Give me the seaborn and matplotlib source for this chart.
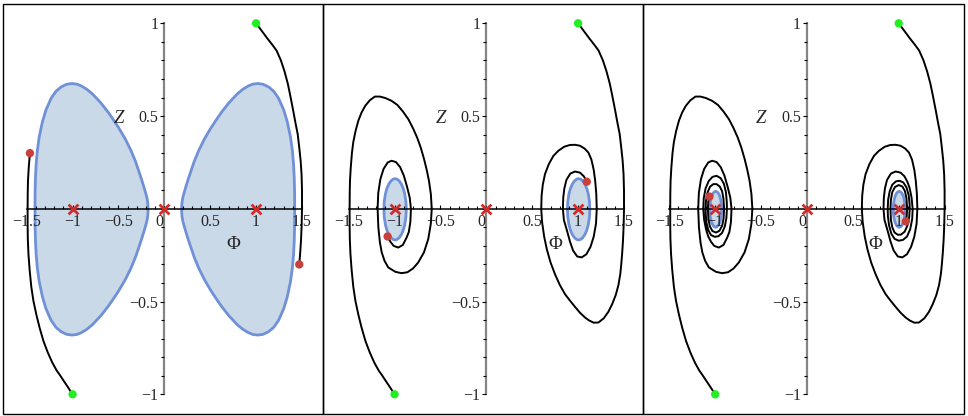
import matplotlib

matplotlib.use("Agg")
import matplotlib.pyplot as plt
from matplotlib.patches import Rectangle
from matplotlib.ticker import MultipleLocator
import numpy as np
import seaborn as sns

# trajectory starting at (1, 1); part 1 is shown in panel 1, parts 1-2 in panel 2, parts 1-3 in panel 3
right_phi_1 = [1.0, 1.06, 1.12, 1.18, 1.224, 1.27, 1.31, 1.345, 1.369, 1.40, 1.43, 1.453, 1.47, 1.485,
               1.495, 1.50, 1.50, 1.496, 1.489, 1.48, 1.47]
right_z_1 = [1.0, 0.96, 0.92, 0.882, 0.852, 0.80, 0.74, 0.675, 0.618, 0.54, 0.46, 0.403, 0.33, 0.26,
             0.187, 0.10, 0.0, -0.09, -0.172, -0.24, -0.30]
right_phi_2 = [1.46, 1.44, 1.41, 1.37, 1.33, 1.28, 1.221, 1.17, 1.12, 1.075, 1.02, 0.96, 0.90, 0.857,
               0.80, 0.75, 0.70, 0.66, 0.63, 0.607, 0.598, 0.602, 0.615, 0.639, 0.68, 0.73, 0.785, 0.85,
               0.91, 0.966, 1.02, 1.07, 1.112, 1.145, 1.17, 1.186, 1.198, 1.203, 1.195, 1.17, 1.135, 1.09,
               1.039, 0.99, 0.945, 0.912, 0.88, 0.845, 0.834, 0.838, 0.85, 0.872, 0.915, 0.966, 1.02,
               1.063, 1.094]
right_z_2 = [-0.35, -0.41, -0.465, -0.515, -0.555, -0.59, -0.613, -0.614, -0.602, -0.586, -0.56, -0.525,
             -0.488, -0.46, -0.41, -0.355, -0.29, -0.22, -0.15, -0.07, 0.0, 0.07, 0.13, 0.187, 0.24,
             0.285, 0.313, 0.335, 0.344, 0.345, 0.34, 0.325, 0.303, 0.265, 0.21, 0.151, 0.08, 0.0,
             -0.08, -0.15, -0.205, -0.245, -0.262, -0.257, -0.225, -0.178, -0.12, -0.06, 0.0, 0.06,
             0.11, 0.155, 0.19, 0.201, 0.195, 0.175, 0.146]
right_phi_3 = [1.12, 1.14, 1.152, 1.147, 1.125, 1.09, 1.045, 1.0, 0.955, 0.92, 0.895, 0.882, 0.88, 0.885,
               0.902, 0.93, 0.97, 1.01, 1.05, 1.085, 1.108, 1.118, 1.12, 1.114, 1.095, 1.065, 1.025,
               0.99, 0.955, 0.93, 0.915, 0.91, 0.915, 0.93, 0.96, 1.0, 1.04, 1.068, 1.085, 1.092,
               1.087, 1.077]
right_z_3 = [0.11, 0.06, 0.0, -0.055, -0.11, -0.15, -0.168, -0.172, -0.162, -0.135, -0.09, -0.04, 0.0,
             0.05, 0.095, 0.13, 0.148, 0.151, 0.142, 0.115, 0.075, 0.03, 0.0, -0.045, -0.09, -0.123,
             -0.139, -0.14, -0.128, -0.1, -0.06, 0.0, 0.05, 0.09, 0.118, 0.128, 0.12, 0.095, 0.055,
             0.0, -0.04, -0.068]

# trajectory starting at (-1, -1)
left_phi_1 = [-1.0, -1.05, -1.10, -1.14, -1.172, -1.22, -1.27, -1.318, -1.36, -1.395, -1.427, -1.45,
              -1.468, -1.481, -1.488, -1.49, -1.49, -1.489, -1.486, -1.478, -1.465]
left_z_1 = [-1.0, -0.962, -0.925, -0.895, -0.873, -0.83, -0.775, -0.712, -0.64, -0.57, -0.496, -0.42,
            -0.33, -0.244, -0.16, -0.08, 0.0, 0.08, 0.151, 0.22, 0.30]
left_phi_2 = [-1.45, -1.425, -1.395, -1.36, -1.32, -1.27, -1.215, -1.16, -1.10, -1.033, -0.97, -0.91,
              -0.85, -0.80, -0.755, -0.715, -0.68, -0.65, -0.625, -0.605, -0.595, -0.605, -0.633,
              -0.68, -0.742, -0.80, -0.86, -0.924, -0.99, -1.04, -1.069, -1.11, -1.14, -1.16, -1.177,
              -1.185, -1.178, -1.155, -1.12, -1.075, -1.033, -0.985, -0.94, -0.90, -0.865, -0.835,
              -0.822, -0.828, -0.845, -0.869, -0.91, -0.96, -1.01, -1.045, -1.076]
left_z_2 = [0.36, 0.42, 0.475, 0.519, 0.555, 0.585, 0.605, 0.605, 0.597, 0.582, 0.56, 0.525, 0.483,
            0.435, 0.385, 0.33, 0.27, 0.21, 0.15, 0.08, 0.0, -0.08, -0.163, -0.235, -0.289, -0.322,
            -0.342, -0.347, -0.34, -0.325, -0.316, -0.28, -0.235, -0.181, -0.1, 0.0, 0.085, 0.16,
            0.215, 0.25, 0.259, 0.252, 0.225, 0.18, 0.12, 0.06, 0.0, -0.07, -0.125, -0.155, -0.195,
            -0.209, -0.2, -0.178, -0.149]
left_phi_3 = [-1.10, -1.12, -1.13, -1.125, -1.105, -1.07, -1.03, -0.985, -0.94, -0.905, -0.883, -0.874,
              -0.872, -0.878, -0.895, -0.925, -0.965, -1.005, -1.045, -1.075, -1.095, -1.103, -1.105,
              -1.10, -1.082, -1.055, -1.02, -0.985, -0.95, -0.925, -0.91, -0.903, -0.908, -0.923,
              -0.953, -0.99, -1.03, -1.058, -1.074, -1.08, -1.075, -1.062]
left_z_3 = [-0.11, -0.06, 0.0, 0.055, 0.11, 0.15, 0.172, 0.178, 0.165, 0.135, 0.09, 0.04, 0.0, -0.05,
            -0.095, -0.13, -0.148, -0.151, -0.142, -0.115, -0.075, -0.03, 0.0, 0.045, 0.09, 0.12,
            0.133, 0.133, 0.12, 0.095, 0.055, 0.0, -0.05, -0.09, -0.118, -0.128, -0.12, -0.095,
            -0.055, 0.0, 0.04, 0.066]

# shaded regions: panel 1 (large lobes), panel 2 and panel 3 (small ovals)
blob_phi_right = [0.183, 0.184, 0.188, 0.196, 0.207, 0.225, 0.25, 0.28, 0.32, 0.37, 0.43, 0.50, 0.56,
                  0.62, 0.70, 0.789, 0.85, 0.91, 0.96, 1.013, 1.07, 1.13, 1.187, 1.24, 1.296, 1.335,
                  1.369, 1.39, 1.403, 1.41, 1.414, 1.415]
blob_phi_left = [-0.183, -0.184, -0.188, -0.196, -0.207, -0.225, -0.25, -0.28, -0.32, -0.37, -0.43,
                 -0.50, -0.56, -0.62, -0.70, -0.789, -0.85, -0.91, -0.96, -1.013, -1.07, -1.13, -1.187,
                 -1.24, -1.296, -1.335, -1.369, -1.39, -1.403, -1.41, -1.414, -1.415]
blob_z_upper = [0.0, 0.02, 0.042, 0.064, 0.084, 0.115, 0.155, 0.2, 0.258, 0.318, 0.378, 0.437, 0.482,
                0.525, 0.575, 0.622, 0.647, 0.665, 0.675, 0.678, 0.674, 0.66, 0.636, 0.598, 0.535,
                0.47, 0.39, 0.315, 0.24, 0.17, 0.09, 0.0]
blob_z_lower = [0.0, -0.02, -0.042, -0.064, -0.084, -0.115, -0.155, -0.2, -0.258, -0.318, -0.378,
                -0.437, -0.482, -0.525, -0.575, -0.622, -0.647, -0.665, -0.675, -0.678, -0.674, -0.66,
                -0.636, -0.598, -0.535, -0.47, -0.39, -0.315, -0.24, -0.17, -0.09, 0.0]

oval2_phi_right = [0.878, 0.882, 0.895, 0.91, 0.93, 0.955, 0.98, 1.0, 1.02, 1.045, 1.07, 1.09, 1.105,
                   1.118, 1.122]
oval2_phi_left = [-1.122, -1.118, -1.105, -1.09, -1.07, -1.045, -1.02, -1.0, -0.98, -0.955, -0.93,
                  -0.91, -0.895, -0.882, -0.878]
oval2_z_upper = [0.0, 0.042, 0.084, 0.111, 0.135, 0.153, 0.163, 0.165, 0.163, 0.153, 0.135, 0.111,
                 0.084, 0.042, 0.0]
oval2_z_lower = [0.0, -0.042, -0.084, -0.111, -0.135, -0.153, -0.163, -0.165, -0.163, -0.153, -0.135,
                 -0.111, -0.084, -0.042, 0.0]

oval3_phi_right = [0.935, 0.937, 0.945, 0.955, 0.97, 0.985, 1.0, 1.015, 1.03, 1.045, 1.055, 1.063, 1.065]
oval3_phi_left = [-1.065, -1.063, -1.055, -1.045, -1.03, -1.015, -1.0, -0.985, -0.97, -0.955, -0.945,
                  -0.937, -0.935]
oval3_z_upper = [0.0, 0.024, 0.052, 0.07, 0.086, 0.094, 0.097, 0.094, 0.086, 0.07, 0.052, 0.024, 0.0]
oval3_z_lower = [0.0, -0.024, -0.052, -0.07, -0.086, -0.094, -0.097, -0.094, -0.086, -0.07, -0.052,
                 -0.024, 0.0]

fixed_phi = [-1.0, 0.0, 1.0]
fixed_z = [0.0, 0.0, 0.0]

x_ticks = [-1.5, -1.0, -0.5, 0.5, 1.0, 1.5]
x_tick_labels = ["\u22121.5", "\u22121", "\u22120.5", "0.5", "1", "1.5"]
y_ticks = [-1.0, -0.5, 0.5, 1.0]
y_tick_labels = ["\u22121", "\u22120.5", "0.5", "1"]

sns.set_style("white")
plt.rcParams["font.family"] = ["Liberation Serif", "DejaVu Serif"]

right_parts = [(right_phi_1, right_z_1), (right_phi_2, right_z_2), (right_phi_3, right_z_3)]
left_parts = [(left_phi_1, left_z_1), (left_phi_2, left_z_2), (left_phi_3, left_z_3)]
regions = [
    [(blob_phi_left, blob_z_lower, blob_z_upper), (blob_phi_right, blob_z_lower, blob_z_upper)],
    [(oval2_phi_left, oval2_z_lower, oval2_z_upper), (oval2_phi_right, oval2_z_lower, oval2_z_upper)],
    [(oval3_phi_left, oval3_z_lower, oval3_z_upper), (oval3_phi_right, oval3_z_lower, oval3_z_upper)],
]

W, H = 968, 416
fig = plt.figure(figsize=(W / 100, H / 100), dpi=100)
axes_left = [26.7, 348.7, 669.3]
box_edges = [3, 322.5, 643, 964]
label_size = 11.5

for k in range(3):
    fig.add_artist(Rectangle((box_edges[k] / W, 2 / H), (box_edges[k + 1] - box_edges[k]) / W, 410 / H,
                             transform=fig.transFigure, fill=False, edgecolor="black", linewidth=1))
    ax = fig.add_axes([axes_left[k] / W, 21.7 / H, 275.3 / W, 371 / H])
    ax.set_facecolor("none")
    ax.set_axisbelow(False)

    for phi, lower, upper in regions[k]:
        ax.fill_between(phi, lower, upper, facecolor="#c9d9e8", edgecolor="#7090d8", linewidth=2,
                        zorder=1, clip_on=False)

    for parts in (right_parts, left_parts):
        phi = np.concatenate([p for p, _ in parts[: k + 1]])
        z = np.concatenate([q for _, q in parts[: k + 1]])
        sns.lineplot(x=phi, y=z, sort=False, estimator=None, color="black", linewidth=1.4, ax=ax,
                     clip_on=False, zorder=3)
        sns.scatterplot(x=[phi[0]], y=[z[0]], color="#22ee22", s=36, edgecolor="none", ax=ax,
                        clip_on=False, zorder=5)
        sns.scatterplot(x=[phi[-1]], y=[z[-1]], color="#c8403c", s=36, edgecolor="none", ax=ax,
                        clip_on=False, zorder=5)

    ax.scatter(fixed_phi, fixed_z, marker="x", s=50, linewidths=2, color="#d42a2a", zorder=4, clip_on=False)

    ax.set_xlim(-1.5, 1.5)
    ax.set_ylim(-1, 1)
    for side in ["top", "right"]:
        ax.spines[side].set_visible(False)
    ax.spines["left"].set_position(("data", 0))
    ax.spines["bottom"].set_position(("data", 0))
    ax.spines["left"].set_color("#858585")
    ax.spines["left"].set_linewidth(1.6)
    ax.spines["bottom"].set_color("black")
    ax.spines["bottom"].set_linewidth(1.1)
    ax.spines["left"].set_zorder(2)
    ax.spines["bottom"].set_zorder(2)

    ax.set_xticks(x_ticks, x_tick_labels)
    ax.set_yticks(y_ticks, y_tick_labels)
    ax.xaxis.set_minor_locator(MultipleLocator(0.1))
    ax.yaxis.set_minor_locator(MultipleLocator(0.1))
    ax.tick_params(axis="x", which="major", bottom=True, direction="in", length=3.2, width=0.8,
                   color="black", pad=4.0, labelsize=label_size)
    ax.tick_params(axis="x", which="minor", bottom=True, direction="in", length=2.2, width=0.8,
                   color="black")
    ax.tick_params(axis="y", which="major", left=True, direction="out", length=2.8, width=0.8,
                   color="black", pad=1.5, labelsize=label_size)
    ax.tick_params(axis="y", which="minor", left=True, direction="out", length=2.0, width=0.8,
                   color="black")
    ax.annotate("0", xy=(0, 0), xytext=(-3.5, -4.0), textcoords="offset points", ha="center", va="top",
                fontsize=label_size, annotation_clip=False)

    ax.text(-0.5, 0.485, "Z", style="italic", fontsize=13.5, ha="center", va="center")
    ax.text(0.75, -0.19, "\u03a6", fontsize=13.5, ha="center", va="center")

fig.savefig("out.png", dpi=100)
